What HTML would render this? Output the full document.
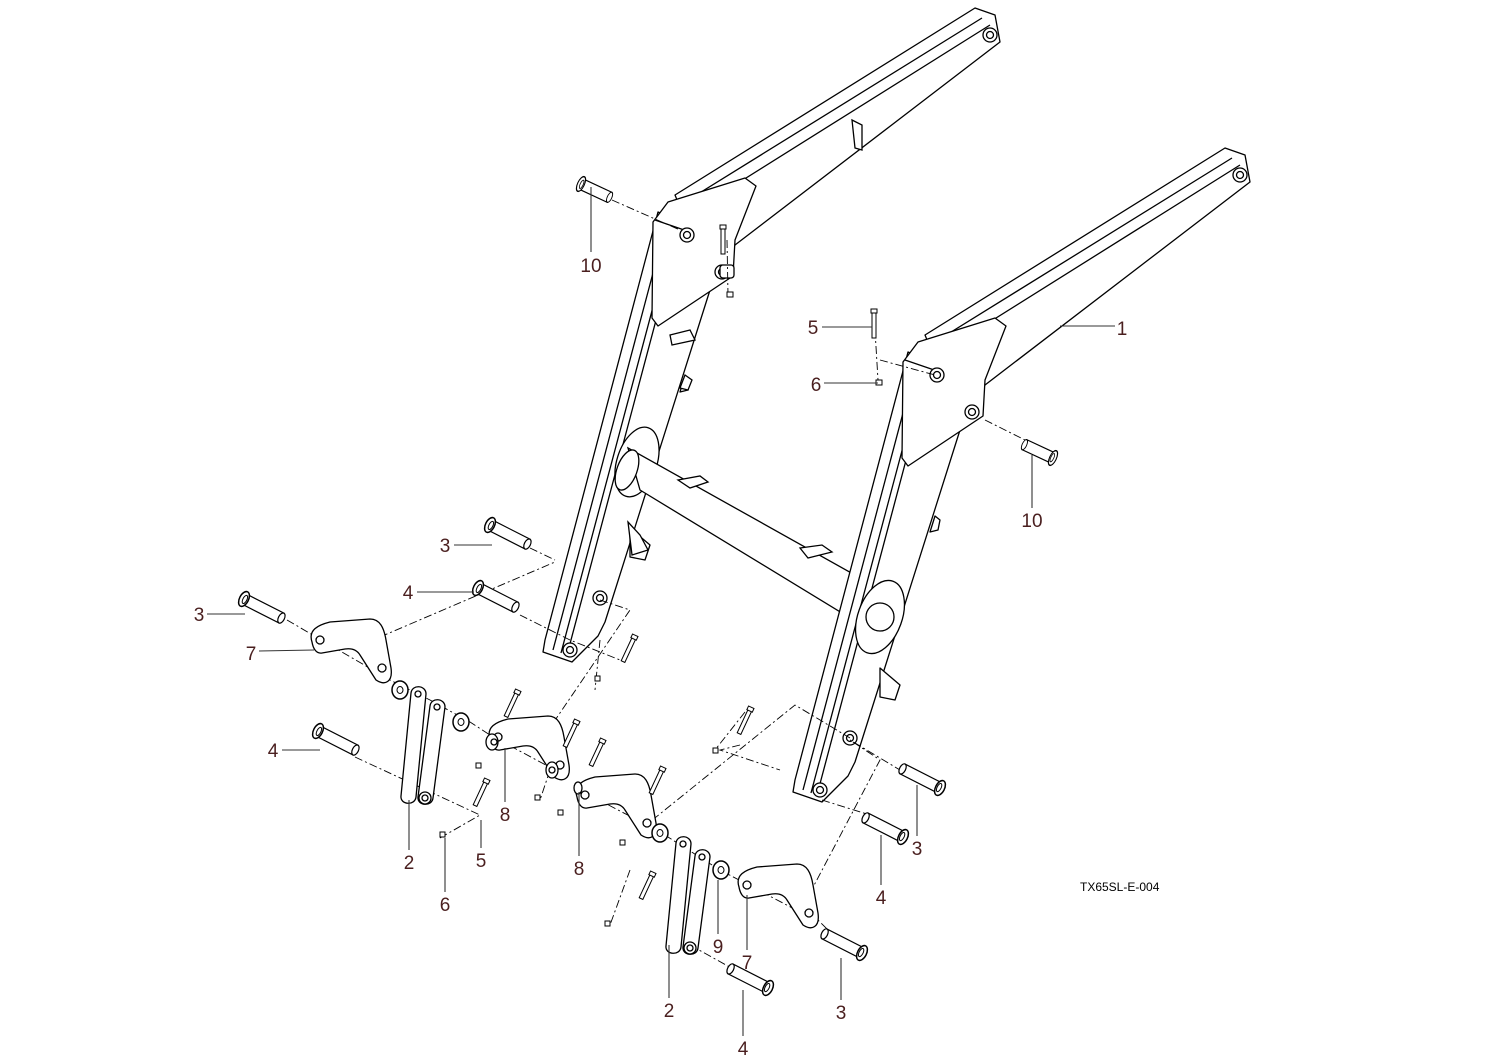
<!DOCTYPE html>
<html><head><meta charset="utf-8"><style>
html,body{margin:0;padding:0;background:#fff;}
svg{display:block}
text{font-family:"Liberation Sans",sans-serif;font-size:19px;fill:#4a1f1f}
</style></head><body>
<svg width="1500" height="1061" viewBox="0 0 1500 1061" xmlns="http://www.w3.org/2000/svg">
<defs>
<g id="pinL">
 <rect x="0" y="-5.5" width="42" height="11" fill="#fff" stroke="#000" stroke-width="1.2"/>
 <ellipse cx="42" cy="0" rx="3" ry="5.5" fill="#fff" stroke="#000" stroke-width="1.2"/>
 <ellipse cx="0" cy="0" rx="4.5" ry="8" fill="#fff" stroke="#000" stroke-width="1.5"/>
 <ellipse cx="1" cy="0" rx="2" ry="4.5" fill="none" stroke="#000"/>
</g>
<g id="arm" fill="#fff" stroke="#000" stroke-width="1.3" stroke-linejoin="round">
 <polygon points="925,335 1225,148 1245,155 1250,182 985,385 960,420"/>
 <line x1="935" y1="342" x2="1232" y2="158"/>
 <line x1="945" y1="350" x2="1240" y2="165"/>
 <polygon points="908,352 950,372 960,430 855,762 848,776 822,802 793,792 795,780"/>
 <line x1="916" y1="364" x2="803" y2="790"/>
 <line x1="924" y1="368" x2="811" y2="793"/>
 <line x1="930" y1="370" x2="817" y2="795"/>
 <polygon points="903,362 918,342 995,318 1006,326 985,380 983,416 908,466 902,458"/>
 <line x1="905" y1="360" x2="940" y2="372"/>
 <circle cx="1240" cy="175" r="7"/><circle cx="1240" cy="175" r="3.5"/>
 <circle cx="937" cy="375" r="7"/><circle cx="937" cy="375" r="3.5"/>
 <circle cx="972" cy="412" r="7"/><circle cx="972" cy="412" r="3.5"/>
 <circle cx="850" cy="738" r="7"/><circle cx="850" cy="738" r="3.5"/>
 <circle cx="820" cy="790" r="7"/><circle cx="820" cy="790" r="3.5"/>
 <path d="M935,516 L940,520 L938,530 L930,532 Z"/>
 <path d="M880,668 L900,685 L895,700 L880,697 Z"/>
</g>
<g id="br" fill="#fff" stroke="#000" stroke-width="1.3">
 <path d="M312,642 C308,630 318,625 330,622 L370,619 C380,619 384,628 386,640 L391,668 C393,682 385,686 376,680 L360,655 C357,650 352,648 345,649 L322,653 C316,654 313,648 312,642 Z"/>
 <circle cx="320" cy="640" r="4"/><circle cx="382" cy="668" r="4"/>
</g>
<g id="link" fill="#fff" stroke="#000" stroke-width="1.3">
 <path d="M411,693 C412,684 426,685 426,694 L416,797 C415,806 400,805 401,796 Z"/>
 <path d="M430,706 C431,697 445,698 445,707 L433,798 C432,807 417,806 418,797 Z"/>
 <circle cx="418" cy="694" r="3"/><circle cx="437" cy="707" r="3"/><circle cx="425" cy="798" r="6"/><circle cx="425" cy="798" r="3"/>
</g>
<g id="washer"><ellipse cx="0" cy="0" rx="8" ry="9" fill="#fff" stroke="#000" stroke-width="1.5"/><ellipse cx="0" cy="0" rx="3" ry="3.5" fill="none" stroke="#000"/></g>
<g id="bolt"><g fill="#fff" stroke="#000"><rect x="-2" y="0" width="4" height="26"/><rect x="-3" y="-3" width="6" height="4"/></g></g>
</defs>

<use href="#arm" transform="translate(-250,-140)"/>
<!-- cross tube -->
<g fill="#fff" stroke="#000" stroke-width="1.3">
 <ellipse cx="637" cy="462" rx="20" ry="36" transform="rotate(18 637 462)"/>
 <polygon points="628,448 855,575 842,613 640,490"/>
 <ellipse cx="627" cy="470" rx="10" ry="21" transform="rotate(20 627 470)"/>
 <path d="M678,480 L700,476 L708,482 L690,488 Z"/>
 <path d="M800,548 L822,545 L832,552 L808,558 Z"/>
 <path d="M628,522 L640,535 L648,550 L632,555 Z"/>
</g>
<use href="#arm"/>
<g fill="#fff" stroke="#000" stroke-width="1.3">
 <ellipse cx="880" cy="617" rx="22" ry="38" transform="rotate(20 880 617)"/>
 <circle cx="880" cy="617" r="14"/>
 <path d="M670,335 L690,330 L695,340 L672,345 Z"/>
 <path d="M685,375 L692,380 L688,390 L680,388 Z"/>
 <path d="M852,120 L862,125 L862,150 L855,148 Z"/>
 <rect x="720" y="265" width="14" height="13" rx="3"/>
</g>

<!-- dash-dot lines -->
<g stroke="#000" stroke-width="0.9" stroke-dasharray="8,3,2,3" fill="none">
 <line x1="612" y1="200" x2="680" y2="230"/>
 <line x1="985" y1="420" x2="1025" y2="440"/>
 <line x1="875" y1="330" x2="878" y2="380"/>
 <line x1="880" y1="360" x2="935" y2="375"/>
 <line x1="727" y1="240" x2="728" y2="295"/>
 <polyline points="287,620 390,680 430,700 470,722 490,735 555,770"/>
 <polyline points="380,637 555,562"/>
 <polyline points="530,548 555,560"/>
 <polyline points="520,615 570,640 620,660"/>
 <polyline points="600,600 630,610 545,735"/>
 <polyline points="355,757 480,815 440,838"/>
 <polyline points="600,640 595,690"/>
 <polyline points="580,790 660,832 720,870 800,912 880,760 850,740 900,770"/>
 <polyline points="640,830 795,705 850,738"/>
 <polyline points="822,800 870,815"/>
 <polyline points="630,870 610,925"/>
 <polyline points="690,945 735,970"/>
 <polyline points="810,912 830,932"/>
 <polyline points="745,712 715,750"/>
 <polyline points="740,745 720,750 780,770"/>
 <polyline points="560,740 540,800"/>
</g>

<!-- pins -->
<use href="#pinL" transform="translate(581,184) rotate(25) scale(0.75,1)"/>
<use href="#pinL" transform="translate(244,599) rotate(27)"/>
<use href="#pinL" transform="translate(490,525) rotate(27)"/>
<use href="#pinL" transform="translate(478,588) rotate(27)"/>
<use href="#pinL" transform="translate(318,731) rotate(27)"/>
<use href="#pinL" transform="translate(1053,458) rotate(205) scale(0.75,1)"/>
<use href="#pinL" transform="translate(940,788) rotate(207)"/>
<use href="#pinL" transform="translate(903,837) rotate(207)"/>
<use href="#pinL" transform="translate(862,953) rotate(207)"/>
<use href="#pinL" transform="translate(768,988) rotate(207)"/>

<!-- brackets, links, washers -->
<use href="#br"/>
<use href="#br" transform="translate(178,97)"/>
<use href="#br" transform="translate(265,155)"/>
<use href="#br" transform="translate(427,245)"/>
<g fill="#fff" stroke="#000" stroke-width="1.3"><ellipse cx="492" cy="742" rx="6" ry="8"/><circle cx="494" cy="742" r="3"/><ellipse cx="552" cy="770" rx="6" ry="8"/><circle cx="552" cy="770" r="3"/><ellipse cx="578" cy="788" rx="4" ry="6"/></g>
<use href="#link"/>
<use href="#link" transform="translate(265,150)"/>
<use href="#washer" transform="translate(400,690)"/>
<use href="#washer" transform="translate(461,722)"/>
<use href="#washer" transform="translate(660,833)"/>
<use href="#washer" transform="translate(721,870)"/>

<!-- bolts/nuts -->
<use href="#bolt" transform="translate(874,312)"/>
<use href="#bolt" transform="translate(723,228)"/>
<use href="#bolt" transform="translate(634,638) rotate(25)"/>
<use href="#bolt" transform="translate(517,693) rotate(25)"/>
<use href="#bolt" transform="translate(576,723) rotate(25)"/>
<use href="#bolt" transform="translate(602,742) rotate(25)"/>
<use href="#bolt" transform="translate(662,770) rotate(25)"/>
<use href="#bolt" transform="translate(750,710) rotate(25)"/>
<use href="#bolt" transform="translate(486,782) rotate(25)"/>
<use href="#bolt" transform="translate(652,875) rotate(25)"/>
<g fill="#fff" stroke="#000"><rect x="876" y="380" width="6" height="5"/><rect x="727" y="292" width="6" height="5"/><rect x="595" y="676" width="5" height="5"/><rect x="476" y="763" width="5" height="5"/><rect x="535" y="795" width="5" height="5"/><rect x="558" y="810" width="5" height="5"/><rect x="620" y="840" width="5" height="5"/><rect x="713" y="748" width="5" height="5"/><rect x="440" y="832" width="5" height="5"/><rect x="605" y="921" width="5" height="5"/></g>

<!-- leaders -->
<g stroke="#333" stroke-width="1.1">
 <line x1="591" y1="187" x2="591" y2="252"/>
 <line x1="1032" y1="455" x2="1032" y2="508"/>
 <line x1="1060" y1="326" x2="1115" y2="326"/>
 <line x1="822" y1="327" x2="872" y2="327"/>
 <line x1="824" y1="383" x2="878" y2="383"/>
 <line x1="454" y1="545" x2="492" y2="545"/>
 <line x1="417" y1="592" x2="474" y2="592"/>
 <line x1="207" y1="614" x2="245" y2="614"/>
 <line x1="259" y1="651" x2="314" y2="650"/>
 <line x1="282" y1="750" x2="320" y2="750"/>
 <line x1="409" y1="800" x2="409" y2="850"/>
 <line x1="481" y1="820" x2="481" y2="848"/>
 <line x1="445" y1="838" x2="445" y2="892"/>
 <line x1="505" y1="748" x2="505" y2="802"/>
 <line x1="579" y1="792" x2="579" y2="856"/>
 <line x1="669" y1="945" x2="669" y2="998"/>
 <line x1="718" y1="880" x2="718" y2="934"/>
 <line x1="747" y1="895" x2="747" y2="950"/>
 <line x1="743" y1="990" x2="743" y2="1036"/>
 <line x1="841" y1="958" x2="841" y2="1000"/>
 <line x1="881" y1="835" x2="881" y2="885"/>
 <line x1="917" y1="785" x2="917" y2="836"/>
</g>
<g text-anchor="middle">
 <text x="591" y="272">10</text>
 <text x="1032" y="527">10</text>
 <text x="1122" y="335">1</text>
 <text x="813" y="334">5</text>
 <text x="816" y="391">6</text>
 <text x="445" y="552">3</text>
 <text x="408" y="599">4</text>
 <text x="199" y="621">3</text>
 <text x="251" y="660">7</text>
 <text x="273" y="757">4</text>
 <text x="409" y="869">2</text>
 <text x="481" y="867">5</text>
 <text x="445" y="911">6</text>
 <text x="505" y="821">8</text>
 <text x="579" y="875">8</text>
 <text x="669" y="1017">2</text>
 <text x="718" y="953">9</text>
 <text x="747" y="969">7</text>
 <text x="743" y="1055">4</text>
 <text x="841" y="1019">3</text>
 <text x="881" y="904">4</text>
 <text x="917" y="855">3</text>
</g>
<text x="1080" y="891" style="font-size:12px;fill:#000">TX65SL-E-004</text>
</svg>
</body></html>
